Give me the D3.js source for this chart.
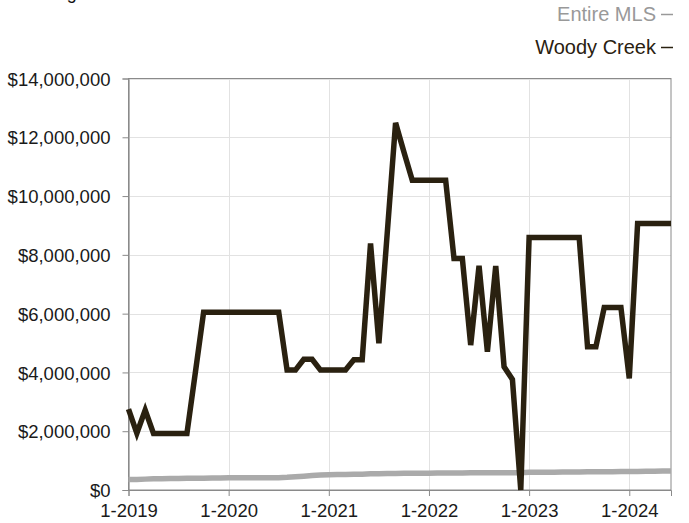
<!DOCTYPE html>
<html><head><meta charset="utf-8">
<script src="https://cdn.jsdelivr.net/npm/d3@7"></script>
<style>
body{margin:0;background:#fff;}
text{font-family:"Liberation Sans",Arial,Helvetica,sans-serif;}
</style></head>
<body><svg id="c" width="689" height="523"></svg>
<script>
const title = "Average Sales Price";
const seriesNames = ["Entire MLS", "Woody Creek"];
const seriesColors = ["#aaaaaa", "#2a2110"];
const xTickLabels = ["1-2019","1-2020","1-2021","1-2022","1-2023","1-2024"];
const xTickIndex = [0,12,24,36,48,60];
const yTicks = [0,2000000,4000000,6000000,8000000,10000000,12000000,14000000];
// monthly values Jan 2019 .. Jun 2024 (66 months), in $M
const woodyCreek = [
 2.75,1.93,2.72,1.92,1.92,1.92,1.92,1.92,3.98,6.05,6.05,6.05,
 6.05,6.05,6.05,6.05,6.05,6.05,6.05,4.08,4.08,4.45,4.45,4.08,
 4.08,4.08,4.08,4.43,4.43,8.39,4.99,8.74,12.49,11.5,10.54,10.54,
 10.54,10.54,10.54,7.88,7.88,4.93,7.63,4.70,7.62,4.19,3.76,0.0,
 8.59,8.59,8.59,8.59,8.59,8.59,8.59,4.87,4.87,6.21,6.21,6.21,
 3.80,9.07,9.07,9.07,9.07,9.07];
const entireMLS = [
 0.36,0.36,0.37,0.38,0.38,0.39,0.39,0.40,0.40,0.40,0.41,0.41,
 0.42,0.42,0.42,0.42,0.42,0.42,0.42,0.43,0.45,0.47,0.49,0.51,
 0.52,0.53,0.53,0.54,0.54,0.55,0.55,0.56,0.56,0.57,0.57,0.57,
 0.57,0.58,0.58,0.58,0.58,0.59,0.59,0.59,0.59,0.59,0.59,0.59,
 0.60,0.60,0.60,0.60,0.61,0.61,0.61,0.62,0.62,0.62,0.62,0.63,
 0.63,0.63,0.64,0.64,0.65,0.65];

const svg = d3.select("#c");
const L=128.5, R=671, T=78.5, B=490;
const x = d3.scaleLinear().domain([0,65]).range([L,R]);
const y = d3.scaleLinear().domain([0,14000000]).range([B,T]);
const fmt = d => "$" + d3.format(",")(d);
const FONT = '"Liberation Sans",Arial,Helvetica,sans-serif';

// title (cut off at top, as in the reference)
svg.append("text").attr("x",20).attr("y",-1).attr("font-size",18).attr("fill","#111").text(title);

// gridlines
svg.append("g").selectAll("line").data(yTicks).join("line")
  .attr("x1",L).attr("x2",R).attr("y1",d=>Math.round(y(d))+0.5).attr("y2",d=>Math.round(y(d))+0.5)
  .attr("stroke","#e2e2e2").attr("stroke-width",1);
svg.append("g").selectAll("line").data(xTickIndex).join("line")
  .attr("y1",T).attr("y2",B).attr("x1",d=>Math.round(x(d))+0.5).attr("x2",d=>Math.round(x(d))+0.5)
  .attr("stroke","#e2e2e2").attr("stroke-width",1);

// border
svg.append("rect").attr("x",L).attr("y",T).attr("width",R-L).attr("height",B-T)
  .attr("fill","none").attr("stroke","#8a8a8a").attr("stroke-width",1);

// axes
const ya = svg.append("g").attr("transform",`translate(${L},0)`)
  .call(d3.axisLeft(y).tickValues(yTicks).tickFormat(fmt).tickSize(6).tickPadding(12));
const xa = svg.append("g").attr("transform",`translate(0,${B})`)
  .call(d3.axisBottom(x).tickValues(xTickIndex).tickFormat((d,i)=>xTickLabels[i]).tickSize(6).tickPadding(8));
[ya,xa].forEach(a=>{
  a.select(".domain").attr("stroke","#8a8a8a");
  a.selectAll(".tick line").attr("stroke","#8a8a8a");
  a.selectAll(".tick text").attr("font-size",18.5).attr("fill","#1a1a1a").style("font-family",FONT);
});
ya.selectAll(".tick text").attr("dy","0.36em");

// lines
const line = d3.line().x((d,i)=>x(i)).y(d=>y(d*1000000));
[entireMLS, woodyCreek].forEach((s,k)=>{
  svg.append("path").datum(s).attr("d",line).attr("fill","none")
    .attr("stroke",seriesColors[k]).attr("stroke-width",5.5).attr("stroke-linejoin","miter");
});

// legend
const legY = [21, 54];
const legText = ["#999999", "#2a2110"];
seriesNames.forEach((n,k)=>{
  svg.append("text").attr("x",656).attr("y",legY[k]).attr("text-anchor","end")
    .attr("font-size",20).attr("fill",legText[k]).text(n);
  svg.append("line").attr("x1",661).attr("x2",673).attr("y1",legY[k]-6.5).attr("y2",legY[k]-6.5)
    .attr("stroke",legText[k]).attr("stroke-width",1.5);
});
</script></body></html>
